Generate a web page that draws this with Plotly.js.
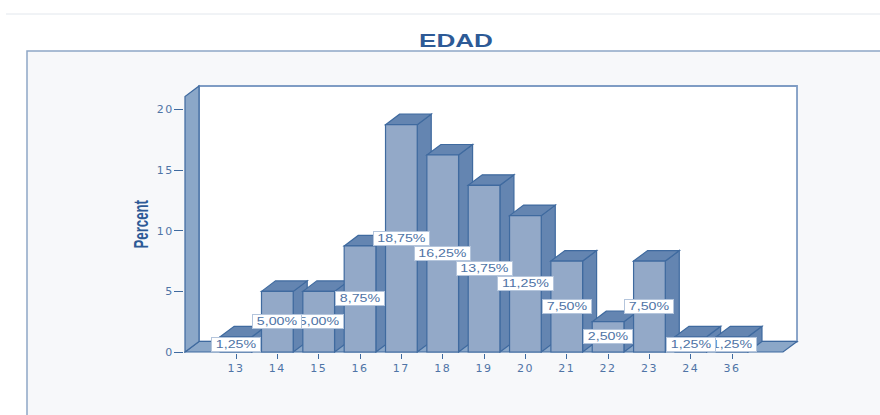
<!DOCTYPE html>
<html>
<head>
<meta charset="utf-8">
<script src="https://cdn.plot.ly/plotly-3.0.1.min.js"></script>
<style>
html,body{margin:0;padding:0;background:#fff}
#chart{width:880px;height:415px}
#chart .gtitle{transform:scaleX(1.45);transform-box:fill-box;transform-origin:center}
#chart .annotation text{transform:scaleX(1.42);transform-box:fill-box;transform-origin:center}
#chart .annotation[data-index="13"] text{transform:scaleX(.66)}
#chart .xtick text,#chart .ytick text{letter-spacing:1.5px}
</style>
</head>
<body>
<div id="chart"></div>
<script>
const categories = ['13','14','15','16','17','18','19','20','21','22','23','24','36'];
const percents = [1.25,5,5,8.75,18.75,16.25,13.75,11.25,7.5,2.5,7.5,1.25,1.25];
const labels = ['1,25%','5,00%','5,00%','8,75%','18,75%','16,25%','13,75%','11,25%','7,50%','2,50%','7,50%','1,25%','1,25%'];
const yTicks = [0,5,10,15,20];

(function(){
const W = 880, H = 415;
const m = {l:184, r:81, t:84, b:62};
const x0 = -1.234, x1 = 13.57, yTop = 21.94;
const xRange = [-1.258, 13.618];
const yRange = [-0.082, 22.105];
const dx = 0.339, dy = 0.866, barW = 0.767;
const cFront = '#93a9c8', cDark = '#6485b1', cEdge = '#3f6a9f', cWall = '#8ba7c8';
const txt = '#4f74a6';

const px = p => (p - m.l) / (W - m.l - m.r);
const py = p => 1 - (p - m.t) / (H - m.t - m.b);
const poly = pts => 'M' + pts.map(p => p[0] + ',' + p[1]).join(' L') + ' Z';
const dataShape = (pts, fill, line, w) => ({type:'path', xref:'x', yref:'y', layer:'below',
  path: poly(pts), fillcolor: fill, line:{color: line, width:w || 1.2}});

const x = categories.map((_, i) => i);

const shapes = [
  {type:'line', xref:'paper', yref:'paper', layer:'below', x0:px(6), x1:px(880), y0:py(14), y1:py(14), line:{color:'#e2e7ed', width:1}},
  {type:'rect', xref:'paper', yref:'paper', layer:'below', x0:px(27), x1:px(900), y0:py(51), y1:py(440), fillcolor:'#f7f8fa', line:{color:'#8fa6c6', width:1.5}},
  dataShape([[x0+dx,dy],[x1,dy],[x1,yTop],[x0+dx,yTop]], '#ffffff', '#7f9cc4', 1.8),
  dataShape([[x0,0],[x0+dx,dy],[x1,dy],[x1-dx,0]], cWall, cEdge),
  dataShape([[x0,0],[x0+dx,dy],[x0+dx,yTop],[x0,yTop-dy]], cWall, cEdge)
];
x.forEach((c, i) => {
  const v = percents[i], r = c + barW/2, l = c - barW/2;
  shapes.push(dataShape([[r,0],[r+dx,dy],[r+dx,v+dy],[r,v]], cDark, cEdge));
  shapes.push(dataShape([[l,v],[l+dx,v+dy],[r+dx,v+dy],[r,v]], cDark, cEdge));
});

const annotations = x.map((c, i) => ({
  x: c, y: percents[i]/2, xref:'x', yref:'y', text: labels[i], showarrow:false,
  xanchor:'center', yanchor:'middle', width: labels[i].length > 5 ? 55 : 48, height:13,
  bgcolor:'#ffffff', bordercolor:'#b4c5dc', borderwidth:1, borderpad:0,
  font:{family:'Liberation Sans', size:10, color:txt}
})).reverse();
annotations.push({
  xref:'paper', yref:'paper', x:px(141), y:py(224), text:'<b>Percent</b>', textangle:-90,
  showarrow:false, xanchor:'center', yanchor:'middle',
  font:{family:'Liberation Sans', size:20, color:'#2d5a96'}
});

const data = [{
  type:'bar', x, y: percents, width: barW,
  marker:{color:cFront, line:{color:cEdge, width:1.2}},
  hoverinfo:'skip', showlegend:false
}];

const layout = {
  width:W, height:H, margin:{l:m.l, r:m.r, t:m.t, b:m.b, pad:0}, showlegend:false,
  paper_bgcolor:'#ffffff', plot_bgcolor:'rgba(0,0,0,0)',
  title:{text:'<b>EDAD</b>', x:456/W, xanchor:'center', y:1-41/H, yanchor:'middle',
    font:{family:'Liberation Sans', size:18, color:'#2d5a96'}},
  bargap:0,
  xaxis:{range:xRange, tickmode:'array', tickvals:x, ticktext:categories, showgrid:false, zeroline:false,
    ticks:'outside', ticklen:5, tickcolor:cEdge, tickwidth:1, showline:false,
    tickfont:{family:'DejaVu Sans', size:11, color:txt}},
  yaxis:{range:yRange, tickmode:'array', tickvals:yTicks, showgrid:false, zeroline:false,
    ticks:'outside', ticklen:9, tickcolor:cEdge, tickwidth:1, showline:false, ticklabelstandoff:-2,
    tickfont:{family:'DejaVu Sans', size:11, color:txt}},
  shapes, annotations
};
Plotly.newPlot('chart', data, layout, {displayModeBar:false, staticPlot:true});
})();
</script>
</body>
</html>
